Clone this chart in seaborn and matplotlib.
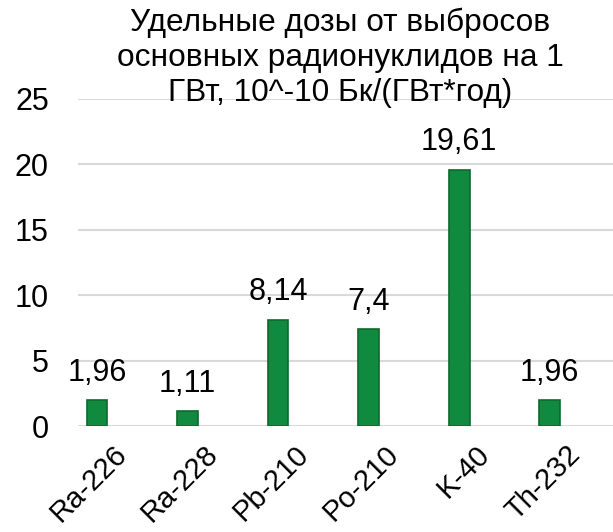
import matplotlib
matplotlib.use("Agg")
import matplotlib.pyplot as plt
import matplotlib.transforms as mtransforms
import seaborn as sns
import pandas as pd

categories = ["Ra-226", "Ra-228", "Pb-210", "Po-210", "K-40", "Th-232"]
values = [1.96, 1.11, 8.14, 7.4, 19.61, 1.96]
value_labels = ["1,96", "1,11", "8,14", "7,4", "19,61", "1,96"]
y_ticks = [0, 5, 10, 15, 20, 25]
title = "Удельные дозы от выбросов\nосновных радионуклидов на 1\nГВт, 10^-10 Бк/(ГВт*год)"

sns.set_theme(style="white")
plt.rcParams['font.family'] = ['Liberation Sans', 'DejaVu Sans']

df = pd.DataFrame({"cat": categories, "val": values})

fig = plt.figure(figsize=(6.13, 5.32), dpi=100)
ax = fig.add_axes([78/613, 1 - 426/532, 1 - 78/613, (426 - 99)/532])

sns.barplot(data=df, x="cat", y="val", color="#108a3e", width=0.23,
            edgecolor="#0a6a2e", linewidth=1.2, saturation=1, ax=ax, zorder=3)

ax.set_ylim(0, 25)
ax.set_xlim(-0.21, 5.70)
ax.set_yticks(y_ticks)
ax.set_yticklabels([str(t) for t in y_ticks], fontsize=22, color="#000000")
ax.yaxis.grid(True, color="#d9d9d9", linewidth=1.5, zorder=0)
ax.set_axisbelow(True)
for s in ax.spines.values():
    s.set_visible(False)
ax.tick_params(axis="y", length=0, pad=21)
ax.tick_params(axis="x", length=0, pad=10)
ax.set_xlabel("")
ax.set_ylabel("")
ax.set_xticks(range(len(categories)))
ax.set_xticklabels(categories, rotation=45, ha="right", rotation_mode="anchor",
                   fontsize=21, color="#000000")
offset = mtransforms.ScaledTranslation(16/100, 0, fig.dpi_scale_trans)
for lab in ax.get_xticklabels():
    lab.set_transform(lab.get_transform() + offset)

for i, (v, lab) in enumerate(zip(values, value_labels)):
    ax.annotate(lab, (i, v), xytext=(0, 9), textcoords="offset points",
                ha="center", va="bottom", fontsize=22, color="#000000")

fig.text(340/613, 1 - 8/532, title, ha="center", va="top", fontsize=22.8,
         linespacing=1.2, color="#000000")

fig.savefig("out.png", dpi=100, facecolor="white")
